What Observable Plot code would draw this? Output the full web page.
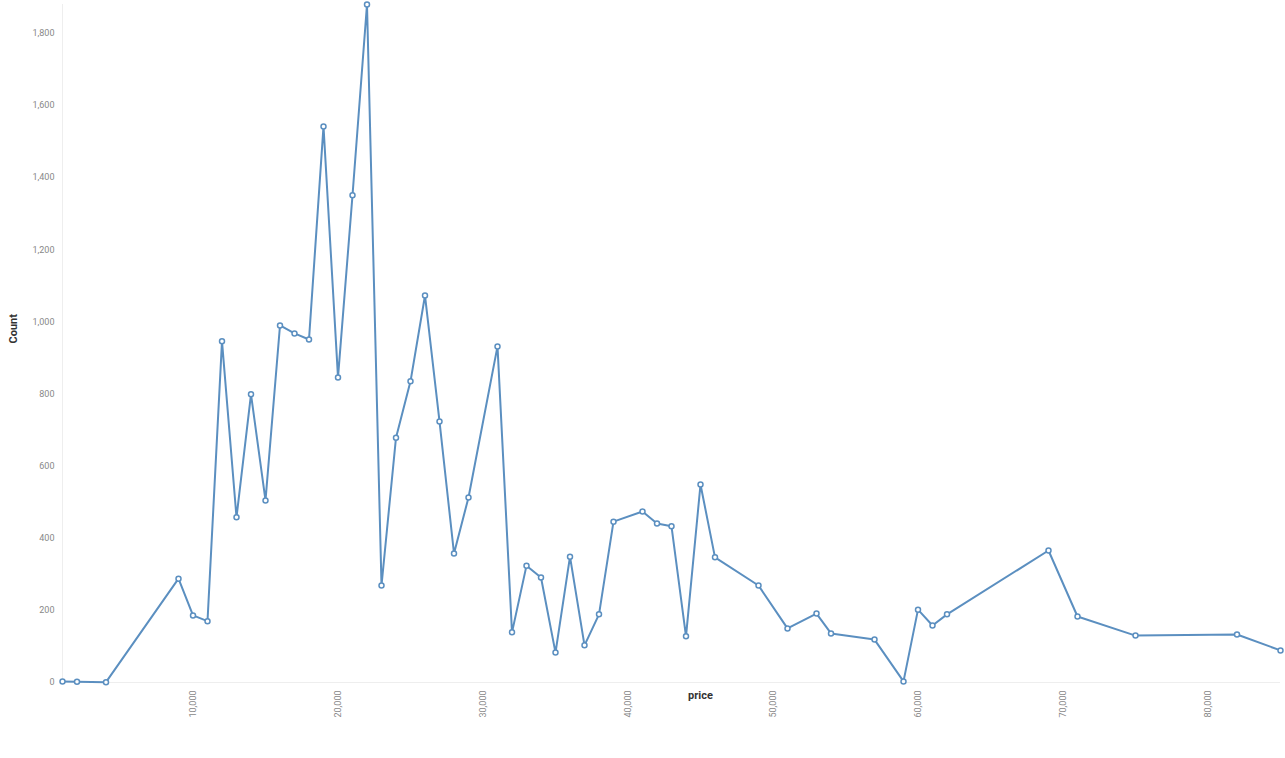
<!DOCTYPE html>
<html>
<head>
<meta charset="utf-8">
<script src="https://cdn.jsdelivr.net/npm/d3@7"></script>
<script src="https://cdn.jsdelivr.net/npm/@observablehq/plot@0.6"></script>
<style>
  body { margin: 0; background: #fff; font-family: Roboto, "Noto Sans", sans-serif; }
</style>
</head>
<body>
<div id="chart"></div>
<script>
const prices = [1000, 2000, 4000, 9000, 10000, 11000, 12000, 13000, 14000, 15000,
  16000, 17000, 18000, 19000, 20000, 21000, 22000, 23000, 24000, 25000,
  26000, 27000, 28000, 29000, 31000, 32000, 33000, 34000, 35000, 36000,
  37000, 38000, 39000, 41000, 42000, 43000, 44000, 45000, 46000, 49000,
  51000, 53000, 54000, 57000, 59000, 60000, 61000, 62000, 69000, 71000,
  75000, 82000, 85000];
const counts = [3, 2, 1, 288, 186, 170, 946, 458, 799, 505,
  990, 968, 951, 1542, 846, 1351, 1880, 269, 679, 835,
  1073, 724, 358, 513, 932, 139, 324, 291, 83, 349,
  103, 189, 446, 474, 441, 433, 128, 549, 347, 269,
  150, 191, 136, 119, 3, 202, 158, 189, 366, 183,
  130, 133, 89];

const rows = prices.map((p, i) => ({ price: p, count: counts[i] }));
const color = "#5b8fc0";

const plot = Plot.plot({
  width: 1285,
  height: 758,
  marginLeft: 62,
  marginRight: 5,
  marginTop: 4,
  marginBottom: 76,
  style: { fontFamily: "Roboto, sans-serif", fontSize: "9px", color: "#888" },
  x: {
    domain: [1000, 85000],
    ticks: [10000, 20000, 30000, 40000, 50000, 60000, 70000, 80000],
    tickFormat: d3.format(","),
    tickRotate: -90,
    tickSize: 0,
    tickPadding: 8,
    label: null
  },
  y: {
    domain: [0, 1880],
    ticks: d3.range(0, 1801, 200),
    tickFormat: d3.format(","),
    tickSize: 0,
    tickPadding: 8,
    label: null
  },
  marks: [
    Plot.ruleY([0], { stroke: "#eee" }),
    Plot.ruleX([1000], { stroke: "#eee" }),
    Plot.line(rows, { x: "price", y: "count", stroke: color, strokeWidth: 2 }),
    Plot.dot(rows, { x: "price", y: "count", fill: "white", stroke: color, strokeWidth: 1.5, r: 2.5 }),
    Plot.text(["price"], { frameAnchor: "bottom", dy: 16, x: 45000, fontWeight: "bold", fontSize: 11, fill: "#333" }),
    Plot.text(["Count"], { frameAnchor: "left", dx: -49, rotate: -90, fontWeight: "bold", fontSize: 11, fill: "#333" })
  ]
});
document.getElementById("chart").append(plot);
</script>
</body>
</html>
